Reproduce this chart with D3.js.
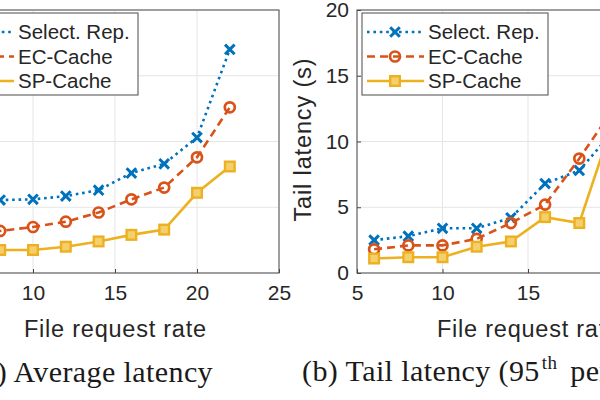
<!DOCTYPE html>
<html><head><meta charset="utf-8">
<script src="https://cdn.jsdelivr.net/npm/d3@7"></script>
<style>
html,body{margin:0;padding:0;background:#fff;}
svg{display:block;}
</style></head>
<body>
<svg id="chart" width="600" height="400"></svg>
<script>
// ---- data ----
const rates = [6, 8, 10, 12, 14, 16, 18, 20, 22];
const xTicks = [5, 10, 15, 20, 25];
const yTicks = [0, 5, 10, 15, 20];
const seriesNames = ["Select. Rep.", "EC-Cache", "SP-Cache"];
const avgSelectRep = [5.4, 5.55, 5.6, 5.85, 6.3, 7.6, 8.3, 10.3, 17.0];
const avgECCache   = [3.1, 3.2, 3.5, 3.9, 4.6, 5.6, 6.5, 8.8, 12.6];
const avgSPCache   = [1.6, 1.75, 1.75, 2.0, 2.4, 2.9, 3.3, 6.1, 8.1];
const tailSelectRep = [2.5, 2.8, 3.4, 3.4, 4.2, 6.8, 7.8, 10.8, 16.0];
const tailECCache   = [1.8, 2.1, 2.1, 2.6, 3.8, 5.2, 8.7, 12.5, 15.0];
const tailSPCache   = [1.1, 1.2, 1.2, 2.0, 2.4, 4.25, 3.8, 11.6, 13.0];

const colors = ["#0072BD", "#D95319", "#EDB120"];
const dashes = ["2.6,3.8", "8,5", null];
const markers = ["x", "o", "s"];
const W = 600;

const svg = d3.select("#chart");
svg.append("rect").attr("width", 600).attr("height", 400).attr("fill", "#fff");

function marker(g, type, color, cx, cy) {
  if (type === "x") {
    const s = 4.8;
    g.append("path").attr("d", `M${cx-s},${cy-s}L${cx+s},${cy+s}M${cx-s},${cy+s}L${cx+s},${cy-s}`)
      .attr("stroke", color).attr("stroke-width", 3).attr("fill", "none");
  } else if (type === "o") {
    g.append("circle").attr("cx", cx).attr("cy", cy).attr("r", 5)
      .attr("stroke", color).attr("stroke-width", 2.7).attr("fill", "none");
  } else {
    const s = 4.8;
    g.append("rect").attr("x", cx - s).attr("y", cy - s).attr("width", 2*s).attr("height", 2*s)
      .attr("stroke", color).attr("stroke-width", 2.4).attr("fill", "#F4CF6E");
  }
}

function panel(id, xRange, series, yLabel, legendX) {
  const x = d3.scaleLinear().domain([5, 25]).range(xRange);
  const y = d3.scaleLinear().domain([0, 20]).range([273, 10]);
  const g = svg.append("g");
  const [x0, x1] = xRange, y0 = 273, y1 = 10;

  // grid
  g.append("g").selectAll("line").data(xTicks).join("line")
    .attr("x1", d => x(d)).attr("x2", d => x(d)).attr("y1", y0).attr("y2", y1)
    .attr("stroke", "#e5e5e5").attr("stroke-width", 1);
  g.append("g").selectAll("line").data(yTicks).join("line")
    .attr("x1", x0).attr("x2", x1).attr("y1", d => y(d)).attr("y2", d => y(d))
    .attr("stroke", "#e5e5e5").attr("stroke-width", 1);

  // axes
  const ax = g.append("g").attr("transform", `translate(0,${y0})`)
    .call(d3.axisBottom(x).tickValues(xTicks).tickSizeInner(-4).tickSizeOuter(0).tickPadding(12));
  const ay = g.append("g").attr("transform", `translate(${x0},0)`)
    .call(d3.axisLeft(y).tickValues(yTicks).tickSizeInner(-4).tickSizeOuter(0).tickPadding(8));
  [ax, ay].forEach(a => {
    a.select(".domain").remove();
    a.selectAll(".tick line").attr("stroke", "#444");
    a.selectAll("text").attr("font-family", "Liberation Sans, Arial, sans-serif")
      .attr("font-size", 21).attr("fill", "#262626");
  });
  // drop labels that lie wholly outside the page
  ax.selectAll(".tick").filter(d => x(d) < -10 || x(d) > W + 10).select("text").remove();
  if (x0 < 0) ay.selectAll(".tick text").remove();

  // box
  g.append("rect").attr("x", x0).attr("y", y1).attr("width", x1 - x0).attr("height", y0 - y1)
    .attr("fill", "none").attr("stroke", "#4a4a4a").attr("stroke-width", 1);

  // clip
  svg.append("clipPath").attr("id", "clip" + id).append("rect")
    .attr("x", x0).attr("y", y1).attr("width", x1 - x0).attr("height", y0 - y1);
  const plot = g.append("g").attr("clip-path", `url(#clip${id})`);
  const line = d3.line().x((d, i) => x(rates[i])).y(d => y(d));
  series.forEach((vals, k) => {
    plot.append("path").attr("d", line(vals)).attr("fill", "none")
      .attr("stroke", colors[k]).attr("stroke-width", 2.6)
      .attr("stroke-dasharray", dashes[k]);
    vals.forEach((v, i) => marker(plot, markers[k], colors[k], x(rates[i]), y(v)));
  });

  // axis labels
  g.append("text").attr("x", (x0 + x1) / 2).attr("y", 337).attr("text-anchor", "middle")
    .attr("font-family", "Liberation Sans, Arial, sans-serif").attr("font-size", 23.5)
    .attr("fill", "#262626").attr("textLength", 182).attr("lengthAdjust", "spacing")
    .text("File request rate");
  if (yLabel) {
    g.append("text").attr("transform", `translate(${x0 - 46},140) rotate(-90)`)
      .attr("text-anchor", "middle")
      .attr("font-family", "Liberation Sans, Arial, sans-serif").attr("font-size", 23.5)
      .attr("fill", "#262626").attr("textLength", 163).attr("lengthAdjust", "spacing")
      .text(yLabel);
  }

  // legend
  const lg = g.append("g");
  lg.append("rect").attr("x", legendX).attr("y", 13).attr("width", 186).attr("height", 82)
    .attr("fill", "#fff").attr("stroke", "#4a4a4a").attr("stroke-width", 1);
  seriesNames.forEach((name, k) => {
    const cy = 32 + k * 24.5;
    lg.append("line").attr("x1", legendX + 5).attr("x2", legendX + 62).attr("y1", cy).attr("y2", cy)
      .attr("stroke", colors[k]).attr("stroke-width", 2.6).attr("stroke-dasharray", dashes[k]);
    marker(lg, markers[k], colors[k], legendX + 33, cy);
    lg.append("text").attr("x", legendX + 66).attr("y", cy + 7)
      .attr("font-family", "Liberation Sans, Arial, sans-serif").attr("font-size", 20.5)
      .attr("fill", "#262626").text(name);
  });
}

panel("a", [-49, 279], [avgSelectRep, avgECCache, avgSPCache], null, -48);
panel("b", [357, 699], [tailSelectRep, tailECCache, tailSPCache], "Tail latency (s)", 362);

// captions
svg.append("text").attr("x", 213).attr("y", 382).attr("text-anchor", "end")
  .attr("font-family", "Liberation Serif, Times New Roman, serif").attr("font-size", 30)
  .attr("letter-spacing", 0.4).attr("fill", "#1a1a1a").text("(a) Average latency");
const cap = svg.append("text").attr("x", 302).attr("y", 381)
  .attr("font-family", "Liberation Serif, Times New Roman, serif").attr("font-size", 30)
  .attr("letter-spacing", 0.4).attr("fill", "#1a1a1a");
cap.append("tspan").text("(b) Tail latency (95");
cap.append("tspan").attr("dx", 2).attr("dy", -12).attr("font-size", 19).text("th");
cap.append("tspan").attr("dx", 5).attr("dy", 12).text(" percentile)");
</script>
</body></html>
